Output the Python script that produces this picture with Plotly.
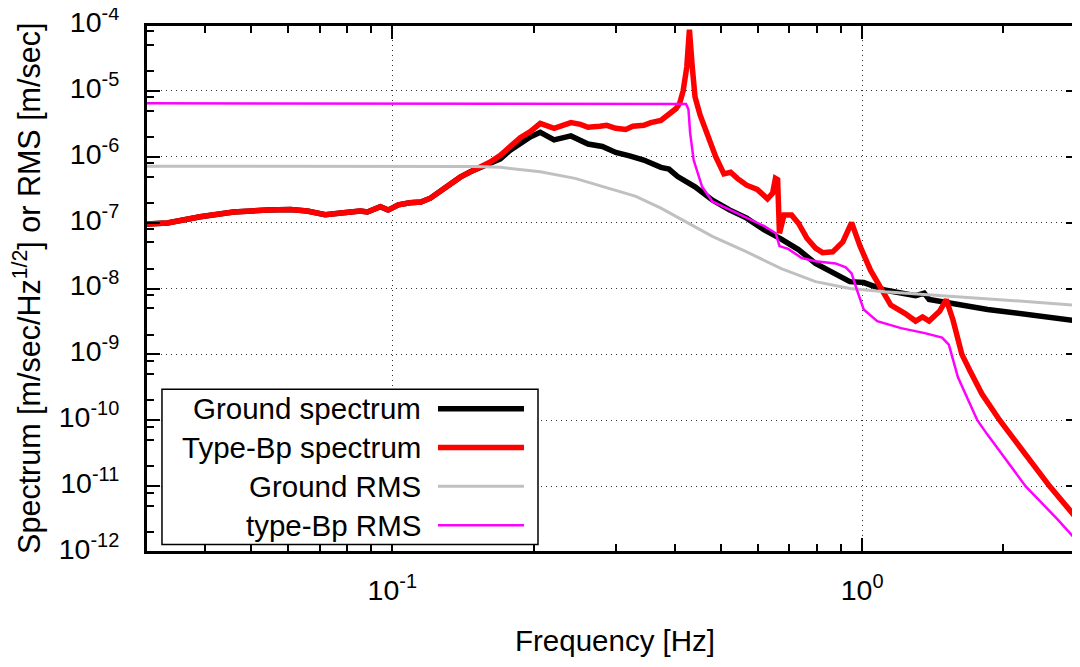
import plotly.graph_objects as go
import numpy as np

# ---------------- data ----------------
ground_f = [0.030, 0.0332, 0.039, 0.0459, 0.0542, 0.0607, 0.0659, 0.072, 0.0787, 0.0855,
            0.0885, 0.0943, 0.098, 0.103, 0.109, 0.115, 0.1205, 0.1265, 0.1328, 0.1395,
            0.1466, 0.1539, 0.1616, 0.1698, 0.1783, 0.1872, 0.1966, 0.2065, 0.221, 0.240,
            0.261, 0.280, 0.299, 0.320, 0.343, 0.373, 0.388, 0.405, 0.441, 0.480,
            0.522, 0.568, 0.618, 0.673, 0.732, 0.796, 0.866, 0.942, 1.008, 1.117,
            1.30, 1.356, 1.389, 1.85, 2.90]
ground_v = [9.5e-8, 9.9e-8, 1.23e-7, 1.45e-7, 1.55e-7, 1.58e-7, 1.5e-7, 1.32e-7, 1.41e-7, 1.5e-7,
            1.45e-7, 1.74e-7, 1.55e-7, 1.86e-7, 2.0e-7, 2.05e-7, 2.35e-7, 3.0e-7, 4.0e-7, 4.9e-7,
            5.9e-7, 6.8e-7, 7.8e-7, 9.3e-7, 1.26e-6, 1.62e-6, 2.0e-6, 2.35e-6, 1.8e-6, 2.07e-6,
            1.56e-6, 1.43e-6, 1.16e-6, 1.03e-6, 8.9e-7, 6.9e-7, 6.5e-7, 5.0e-7, 3.5e-7, 2.2e-7,
            1.56e-7, 1.17e-7, 7.8e-8, 5.6e-8, 3.9e-8, 2.4e-8, 1.7e-8, 1.27e-8, 1.23e-8, 9.5e-9,
            7.8e-9, 8.5e-9, 6.8e-9, 4.8e-9, 3.2e-9]

typebp_f = [0.030, 0.0332, 0.039, 0.0459, 0.0542, 0.0607, 0.0659, 0.072, 0.0787, 0.0855,
            0.0885, 0.0943, 0.098, 0.103, 0.109, 0.115, 0.1205, 0.1265, 0.1328, 0.1395,
            0.1466, 0.1539, 0.1616, 0.1698, 0.1783, 0.1872, 0.1966, 0.2065, 0.221, 0.2285,
            0.240, 0.2515, 0.261, 0.2765, 0.286, 0.299, 0.314, 0.325, 0.343, 0.355,
            0.373, 0.386, 0.402, 0.409, 0.416, 0.4235, 0.429, 0.435, 0.441, 0.452,
            0.472, 0.488, 0.508, 0.525, 0.5425, 0.568, 0.598, 0.629, 0.645, 0.654,
            0.661, 0.667, 0.682, 0.708, 0.732, 0.763, 0.796, 0.824, 0.866, 0.910,
            0.950, 0.990, 1.042, 1.095, 1.151, 1.233, 1.30, 1.345, 1.389, 1.462,
            1.511, 1.562, 1.631, 1.70, 1.80, 1.963, 2.2, 2.506, 2.90]
typebp_v = [9.5e-8, 9.9e-8, 1.23e-7, 1.45e-7, 1.55e-7, 1.58e-7, 1.5e-7, 1.32e-7, 1.41e-7, 1.5e-7,
            1.45e-7, 1.74e-7, 1.55e-7, 1.86e-7, 2.0e-7, 2.05e-7, 2.35e-7, 3.0e-7, 4.0e-7, 4.9e-7,
            5.9e-7, 7.0e-7, 8.3e-7, 1.05e-6, 1.4e-6, 1.95e-6, 2.4e-6, 3.2e-6, 2.7e-6, 2.9e-6,
            3.3e-6, 3.1e-6, 2.8e-6, 2.9e-6, 3.0e-6, 2.7e-6, 2.6e-6, 2.9e-6, 3.0e-6, 3.3e-6,
            3.55e-6, 4.3e-6, 5.4e-6, 6.5e-6, 1.0e-5, 2.3e-5, 8.5e-5, 2.3e-5, 8.1e-6, 4.3e-6,
            1.8e-6, 1.0e-6, 5.5e-7, 5.8e-7, 4.7e-7, 3.7e-7, 3.2e-7, 2.3e-7, 2.8e-7, 4.7e-7,
            4.5e-7, 6.9e-8, 1.3e-7, 1.3e-7, 9.8e-8, 5.8e-8, 4.1e-8, 3.5e-8, 3.6e-8, 5.1e-8,
            1.0e-7, 4.4e-8, 1.9e-8, 1.0e-8, 5.6e-9, 4.2e-9, 3.2e-9, 3.7e-9, 3.2e-9, 4.5e-9,
            6.8e-9, 3.3e-9, 1.0e-9, 5.5e-10, 2.5e-10, 1.0e-10, 3.5e-11, 1.0e-11, 2.9e-12]

ground_rms_f = [0.030, 0.10, 0.15, 0.17, 0.2065, 0.245, 0.290, 0.330, 0.373, 0.420,
                0.480, 0.568, 0.673, 0.796, 0.942, 1.117, 1.562, 2.27, 2.90]
ground_rms_v = [7.2e-7, 7.2e-7, 7.1e-7, 6.9e-7, 5.9e-7, 4.7e-7, 3.3e-7, 2.5e-7, 1.66e-7, 1.04e-7,
                6.2e-8, 3.6e-8, 2.0e-8, 1.27e-8, 1.0e-8, 8.9e-9, 7.6e-9, 6.3e-9, 5.5e-9]

typebp_rms_f = [0.030, 0.20, 0.40, 0.422, 0.427, 0.4305, 0.438, 0.4565, 0.480, 0.515,
                0.568, 0.618, 0.655, 0.667, 0.696, 0.744, 0.796, 0.878, 0.923, 0.950,
                0.975, 1.008, 1.077, 1.21, 1.36, 1.48, 1.53, 1.55, 1.60, 1.66,
                1.759, 1.85, 2.228, 2.61, 2.90]
typebp_rms_v = [6.5e-6, 6.45e-6, 6.4e-6, 6.3e-6, 5.2e-6, 2.3e-6, 8.9e-7, 3.5e-7, 2.1e-7, 1.66e-7,
                1.17e-7, 8.9e-8, 6.9e-8, 4.4e-8, 4.0e-8, 2.9e-8, 2.6e-8, 2.4e-8, 2.1e-8, 1.7e-8,
                9.5e-9, 4.8e-9, 3.2e-9, 2.5e-9, 2.1e-9, 1.8e-9, 1.4e-9, 1.0e-9, 4.5e-10, 2.5e-10,
                1.0e-10, 6.0e-11, 1.0e-11, 3.1e-12, 1.35e-12]

series_names = ["Ground spectrum", "Type-Bp spectrum", "Ground RMS", "type-Bp RMS"]
series_colors = ["#000000", "#ff0000", "#c0c0c0", "#ff00ff"]
series_widths = [5.5, 5.5, 3, 2.5]

x_tickvals = [0.1, 1]
x_ticktext = ["10<sup>-1</sup>", "10<sup>0</sup>"]
y_exps = list(range(-12, -3))
y_tickvals = [10.0 ** e for e in y_exps]
y_ticktext = ["10<sup>%d</sup>" % e for e in y_exps]

x_title = "Frequency [Hz]"
y_title = "Spectrum [m/sec/Hz<sup>1/2</sup>] or RMS [m/sec]"

x_range = [0.0299, 2.91]
y_range = [1e-12, 1e-4]

FONT = "Liberation Sans, Arial, sans-serif"
FS_TICK = 28.5
FS_TEXT = 29.5

# ---------------- figure ----------------
fig = go.Figure()
data = [(ground_f, ground_v), (typebp_f, typebp_v), (ground_rms_f, ground_rms_v),
        (typebp_rms_f, typebp_rms_v)]
for (fx, fy), name, col, w in zip(data, series_names, series_colors, series_widths):
    fig.add_trace(go.Scatter(x=fx, y=fy, mode="lines", name=name,
                             line=dict(color=col, width=w), showlegend=False))

x_minor = [m * 10.0 ** e for e in (-2, -1, 0) for m in range(2, 10)]
x_minor = [v for v in x_minor if x_range[0] < v < x_range[1]]
y_minor = [m * 10.0 ** e for e in range(-12, -4) for m in (2, 5, 8)]

common = dict(ticks="inside", ticklen=14, tickwidth=1.5, tickcolor="#000",
              showline=True, linecolor="#000", linewidth=2, mirror="ticks",
              showgrid=True, gridcolor="#333", gridwidth=1, griddash="1px,4px",
              zeroline=False, automargin=False, ticklabeloverflow="allow",
              tickfont=dict(family=FONT, size=FS_TICK, color="#000"))

fig.update_xaxes(type="log", range=[np.log10(x_range[0]), np.log10(x_range[1])],
                 tickmode="array", tickvals=x_tickvals, ticktext=x_ticktext,
                 minor=dict(tickmode="array", tickvals=x_minor, ticks="inside",
                            ticklen=8, tickwidth=1.5, tickcolor="#000", showgrid=False),
                 ticklabelstandoff=12, **common)
fig.update_yaxes(type="log", range=[np.log10(y_range[0]), np.log10(y_range[1])],
                 tickmode="array", tickvals=y_tickvals, ticktext=y_ticktext,
                 minor=dict(tickmode="array", tickvals=y_minor, ticks="inside",
                            ticklen=8, tickwidth=1.5, tickcolor="#000", showgrid=False),
                 ticklabelstandoff=19, ticklabelshift=-3, **common)

# plot frame (top edge drawn explicitly)
fig.add_shape(type="rect", xref="paper", yref="paper", x0=0, x1=1, y0=0, y1=1,
              line=dict(color="#000", width=2), fillcolor="rgba(0,0,0,0)", layer="above")

# axis titles
fig.add_annotation(xref="paper", yref="paper", x=0.502, y=-0.167, text=x_title,
                   showarrow=False, xanchor="center", yanchor="middle",
                   font=dict(family=FONT, size=FS_TEXT, color="#000"))
fig.add_annotation(xref="paper", yref="paper", x=-0.127, y=0.5, text=y_title,
                   showarrow=False, xanchor="center", yanchor="middle", textangle=-90,
                   font=dict(family=FONT, size=FS_TEXT + 1, color="#000"))

# ---------------- custom legend (text left, sample right) ----------------
leg_x0, leg_x1, leg_y0, leg_y1 = 0.0171, 0.4197, 0.0142, 0.309
fig.add_shape(type="rect", xref="paper", yref="paper", x0=leg_x0, x1=leg_x1, y0=leg_y0, y1=leg_y1,
              line=dict(color="#000", width=1.5), fillcolor="#fff", layer="above")
row_y = [0.2717, 0.1985, 0.1247, 0.0508]
for name, col, w, ry in zip(series_names, series_colors, series_widths, row_y):
    fig.add_annotation(xref="paper", yref="paper", x=0.2966, y=ry, text=name, showarrow=False,
                       xanchor="right", yanchor="middle",
                       font=dict(family=FONT, size=FS_TEXT, color="#000"))
    fig.add_shape(type="line", xref="paper", yref="paper", x0=0.3126, x1=0.4047, y0=ry, y1=ry,
                  line=dict(color=col, width=w), layer="above")

# page body has an 8px default margin: size the figure so it fits the 1080x667 window
fig.update_layout(width=1072, height=651, margin=dict(l=138, r=0, t=17, b=107),
                  paper_bgcolor="#fff", plot_bgcolor="#fff", showlegend=False,
                  font=dict(family=FONT, size=FS_TEXT, color="#000"))

fig.write_html("out.html")
